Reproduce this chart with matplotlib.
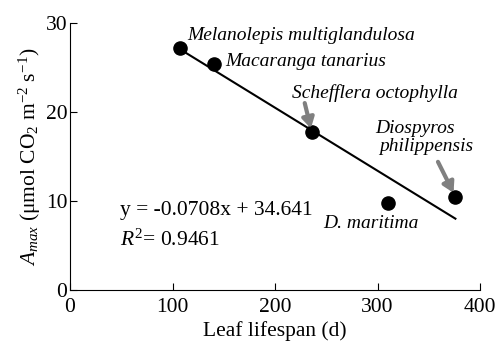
import matplotlib
matplotlib.use("Agg")
import matplotlib.pyplot as plt
import numpy as np

plt.rcParams['font.family'] = ['Liberation Serif', 'DejaVu Serif']
plt.rcParams['mathtext.fontset'] = 'custom'
plt.rcParams['mathtext.rm'] = 'Liberation Serif'
plt.rcParams['mathtext.it'] = 'Liberation Serif:italic'

# data
species = ['Melanolepis multiglandulosa', 'Macaranga tanarius', 'Schefflera octophylla',
           'D. maritima', 'Diospyros', 'philippensis']
lifespan = [107, 140, 236, 310, 376]
amax = [27.2, 25.4, 17.7, 9.8, 10.5]
slope, intercept = -0.0708, 34.641

fig = plt.figure(figsize=(5, 3.47), dpi=100)
ax = fig.add_axes([0.14, 0.164, 0.82, 0.77])

xs = np.array([min(lifespan), max(lifespan)])
ax.plot(xs, slope * xs + intercept, color='black', lw=1.5, zorder=2)
ax.scatter(lifespan, amax, s=90, color='black', zorder=3)

ax.set_xlim(0, 400)
ax.set_ylim(0, 30)
ax.set_xticks([0, 100, 200, 300, 400])
ax.set_yticks([0, 10, 20, 30])
ax.spines['top'].set_visible(False)
ax.spines['right'].set_visible(False)
ax.tick_params(direction='in', length=5, labelsize=15.5)
ax.tick_params(axis='x', pad=6)
ax.tick_params(axis='y', pad=2)
ax.set_xlabel('Leaf lifespan (d)', fontsize=15.5, labelpad=3)
ax.set_ylabel(r'$A_{max}$ (μmol CO$_2$ m$^{-2}$ s$^{-1}$)', fontsize=15.5, labelpad=2)

lab = dict(fontsize=14, style='italic', va='baseline')
ax.text(114, 28.1, species[0], ha='left', **lab)
ax.text(151, 25.2, species[1], ha='left', **lab)
ax.text(217, 21.6, species[2], ha='left', **lab)
ax.text(247, 7.0, species[3], ha='left', **lab)
ax.text(337, 17.6, species[4], ha='center', **lab)
ax.text(348, 15.6, species[5], ha='center', **lab)

arrow = dict(arrowstyle='-|>,head_width=0.35,head_length=0.6', color='#808080', lw=3,
             shrinkA=0, shrinkB=3)
ax.annotate('', xy=(lifespan[2], amax[2]), xytext=(229, 21.0), arrowprops=arrow)
ax.annotate('', xy=(lifespan[4], amax[4]), xytext=(359, 14.4), arrowprops=arrow)

ax.text(49, 8.4, 'y = -0.0708x + 34.641', fontsize=15.5, ha='left', va='baseline')
ax.text(49, 5.0, r'$R^2$= 0.9461', fontsize=15.5, ha='left', va='baseline')

fig.savefig('out.png', dpi=100)
